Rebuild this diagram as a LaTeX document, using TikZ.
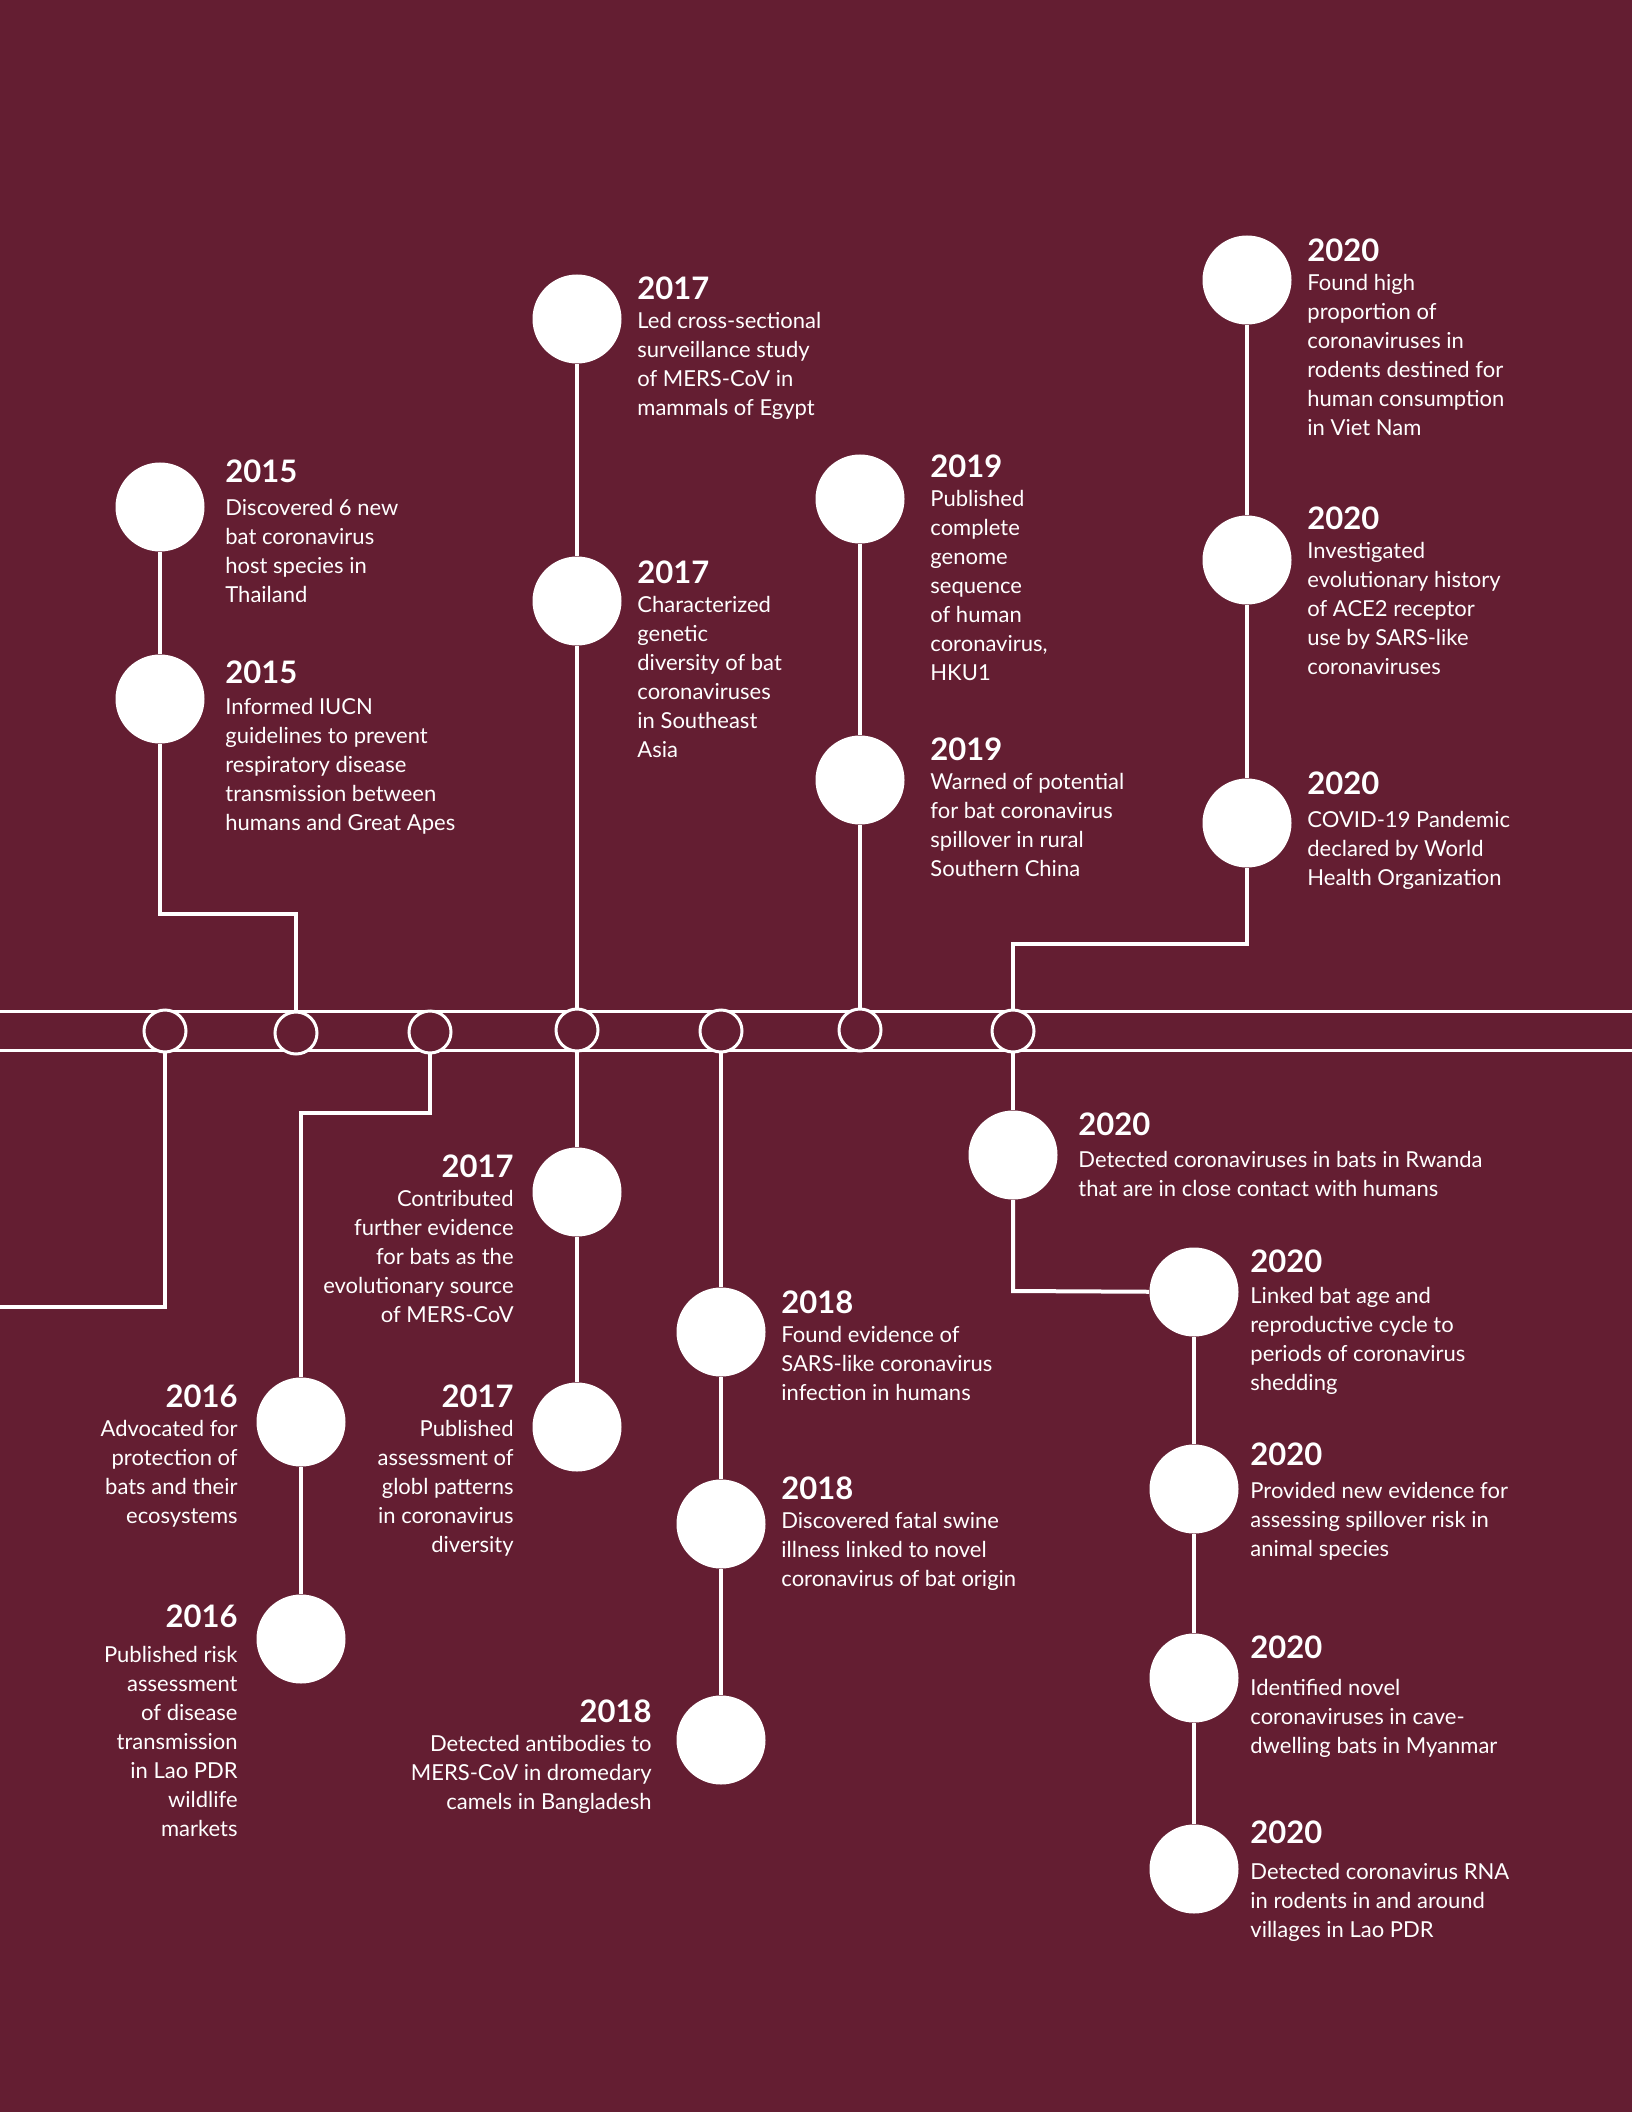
\documentclass[tikz,border=0pt]{standalone}
\usepackage{fontspec}
\setmainfont{Lato}
\definecolor{bg}{HTML}{641E32}
\newcommand\yr[1]{{\fontsize{15.5}{15.5}\selectfont\bfseries #1}}
\newcommand\evl[1]{\begin{tabular}[t]{@{}l@{}}#1\end{tabular}}
\newcommand\evr[1]{\begin{tabular}[t]{@{}r@{}}#1\end{tabular}}
\begin{document}
\begin{tikzpicture}[x=0.5pt,y=-0.5pt,
  conn/.style={draw=white, line width=2pt},
  band/.style={draw=white, line width=1.5pt},
  big/.style={circle, fill=white, draw=none, minimum size=44.5pt, inner sep=0},
  small/.style={circle, fill=bg, draw=white, line width=1.5pt, minimum size=21pt, inner sep=0},
  evL/.style={anchor=base west, inner sep=0, text=white, font=\fontsize{11}{14.5}\selectfont},
  evR/.style={anchor=base east, inner sep=0, text=white, font=\fontsize{11}{14.5}\selectfont}]
\fill[bg] (0,0) rectangle (1632,2112);
\useasboundingbox (0,0) rectangle (1632,2112);

% timeline band
\coordinate (bl1) at (0,1011); \coordinate (br1) at (1632,1011);
\coordinate (bl2) at (0,1050); \coordinate (br2) at (1632,1050);
\draw[band] (bl1) -- (br1);
\draw[band] (bl2) -- (br2);

% positions of the small circles on the band
\coordinate (p1) at (165,1031); \coordinate (p2) at (296,1033);
\coordinate (p3) at (430,1032); \coordinate (p4) at (577,1030);
\coordinate (p5) at (721,1031); \coordinate (p6) at (860,1030);
\coordinate (p7) at (1013,1031);

% big circles
\node[big] (A) at (160,507) {};
\node[big] (B) at (160,699) {};
\node[big] (C) at (577,319) {};
\node[big] (D) at (577,601) {};
\node[big] (E) at (860,499) {};
\node[big] (F) at (860,780) {};
\node[big] (G) at (1247,280) {};
\node[big] (H) at (1247,560) {};
\node[big] (I) at (1247,823) {};
\node[big] (J) at (301,1422) {};
\node[big] (K) at (301,1639) {};
\node[big] (L) at (577,1192) {};
\node[big] (M) at (577,1427) {};
\node[big] (N) at (721,1332) {};
\node[big] (O) at (721,1524) {};
\node[big] (P) at (721,1740) {};
\node[big] (Q) at (1013,1155) {};
\node[big] (R) at (1194,1292) {};
\node[big] (S) at (1194,1489) {};
\node[big] (T) at (1194,1678) {};
\node[big] (U) at (1194,1869) {};

% bend points
\coordinate (a1) at (160,914); \coordinate (a2) at (296,914);
\coordinate (i1) at (1247,944); \coordinate (i2) at (1013,944);
\coordinate (s1a) at (165,1307); \coordinate (s1b) at (0,1307);
\coordinate (j1) at (430,1113); \coordinate (j2) at (301,1113);
\coordinate (q1) at (1013,1291);

% connectors
\draw[conn] (A) -- (B);
\draw[conn] (B) -- (a1) -- (a2) -- (p2);
\draw[conn] (C) -- (D);
\draw[conn] (D) -- (p4);
\draw[conn] (E) -- (F);
\draw[conn] (F) -- (p6);
\draw[conn] (G) -- (H);
\draw[conn] (H) -- (I);
\draw[conn] (I) -- (i1) -- (i2) -- (p7);
\draw[conn] (p1) -- (s1a) -- (s1b);
\draw[conn] (p3) -- (j1) -- (j2) -- (J);
\draw[conn] (J) -- (K);
\draw[conn] (p4) -- (L);
\draw[conn] (L) -- (M);
\draw[conn] (p5) -- (N);
\draw[conn] (N) -- (O);
\draw[conn] (O) -- (P);
\draw[conn] (p7) -- (Q);
\draw[conn] (Q) -- (q1) -- (R);
\draw[conn] (R) -- (S);
\draw[conn] (S) -- (T);
\draw[conn] (T) -- (U);

% small circles drawn over band and connectors
\node[small] (s1) at (p1) {};
\node[small] (s2) at (p2) {};
\node[small] (s3) at (p3) {};
\node[small] (s4) at (p4) {};
\node[small] (s5) at (p5) {};
\node[small] (s6) at (p6) {};
\node[small] (s7) at (p7) {};

% texts
\node[evL] (tA) at (225,483) {\evl{\yr{2015}\\[2pt]Discovered 6 new\\bat coronavirus\\host species in\\Thailand}};
\node[evL] (tB) at (225,683) {\evl{\yr{2015}\\[1pt]Informed IUCN\\guidelines to prevent\\respiratory disease\\transmission between\\humans and Great Apes}};
\node[evL] (tC) at (637,300) {\evl{\yr{2017}\\Led cross-sectional\\surveillance study\\of MERS-CoV in\\mammals of Egypt}};
\node[evL] (tD) at (637,583) {\evl{\yr{2017}\\Characterized\\genetic\\diversity of bat\\coronaviruses\\in Southeast\\Asia}};
\node[evL] (tE) at (930,478) {\evl{\yr{2019}\\Published\\complete\\genome\\sequence\\of human\\coronavirus,\\HKU1}};
\node[evL] (tF) at (930,760) {\evl{\yr{2019}\\Warned of potential\\for bat coronavirus\\spillover in rural\\Southern China}};
\node[evL] (tG) at (1307,262) {\evl{\yr{2020}\\Found high\\proportion of\\coronaviruses in\\rodents destined for\\human consumption\\in Viet Nam}};
\node[evL] (tH) at (1307,530) {\evl{\yr{2020}\\Investigated\\evolutionary history\\of ACE2 receptor\\use by SARS-like\\coronaviruses}};
\node[evL] (tI) at (1307,794) {\evl{\yr{2020}\\[2pt]COVID-19 Pandemic\\declared by World\\Health Organization}};
\node[evR] (tJ) at (238,1407) {\evr{\yr{2016}\\Advocated for\\protection of\\bats and their\\ecosystems}};
\node[evR] (tK) at (238,1627) {\evr{\yr{2016}\\[3pt]Published risk\\assessment\\of disease\\transmission\\in Lao PDR\\wildlife\\markets}};
\node[evR] (tL) at (514,1177) {\evr{\yr{2017}\\Contributed\\further evidence\\for bats as the\\evolutionary source\\of MERS-CoV}};
\node[evR] (tM) at (514,1407) {\evr{\yr{2017}\\Published\\assessment of\\globl patterns\\in coronavirus\\diversity}};
\node[evL] (tN) at (781,1313) {\evl{\yr{2018}\\Found evidence of\\SARS-like coronavirus\\infection in humans}};
\node[evL] (tO) at (781,1499) {\evl{\yr{2018}\\Discovered fatal swine\\illness linked to novel\\coronavirus of bat origin}};
\node[evR] (tP) at (652,1722) {\evr{\yr{2018}\\Detected antibodies to\\MERS-CoV in dromedary\\camels in Bangladesh}};
\node[evL] (tQ) at (1078,1135) {\evl{\yr{2020}\\[1.5pt]Detected coronaviruses in bats in Rwanda\\that are in close contact with humans}};
\node[evL] (tR) at (1250,1272) {\evl{\yr{2020}\\[1pt]Linked bat age and\\reproductive cycle to\\periods of coronavirus\\shedding}};
\node[evL] (tS) at (1250,1465) {\evl{\yr{2020}\\[2pt]Provided new evidence for\\assessing spillover risk in\\animal species}};
\node[evL] (tT) at (1250,1658) {\evl{\yr{2020}\\[4pt]Identified novel\\coronaviruses in cave-\\dwelling bats in Myanmar}};
\node[evL] (tU) at (1250,1843) {\evl{\yr{2020}\\[3.5pt]Detected coronavirus RNA\\in rodents in and around\\villages in Lao PDR}};
\end{tikzpicture}
\end{document}
